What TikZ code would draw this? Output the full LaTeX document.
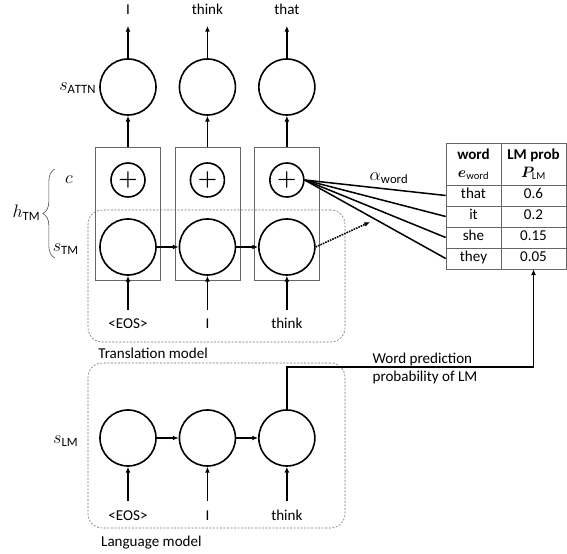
\RequirePackage{fix-cm}
\documentclass[tikz,border=0pt]{standalone}
\usepackage{amsmath,amssymb,bm}
\usepackage{fontspec}
\setmainfont{Carlito}
\usetikzlibrary{arrows.meta,calc,decorations.pathreplacing,positioning}
\newcommand{\figfont}{\fontsize{15}{18}\selectfont}
\tikzset{
  wire/.style={black, line width=1.5pt},
  flow/.style={-{Latex[length=2mm,width=1.7mm]}, line width=1.6pt},
  state/.style={circle, draw=black, line width=1.6pt,
                minimum size=19.6mm, inner sep=0pt},
  plus/.style={circle, draw=black, line width=1.6pt,
               minimum size=11.9mm, inner sep=0pt,
               font=\fontsize{22}{24}\selectfont},
  column/.style={draw=black!60, line width=0.6pt, inner sep=0pt,
                 minimum width=22.75mm, minimum height=46.55mm},
  model/.style={draw=black!55, line width=0.6pt,
                dash pattern=on 2pt off 1.5pt,
                rounded corners=5mm, inner sep=0pt},
  word/.style={text height=1.6ex, text depth=0.4ex, inner sep=2pt},
  lab/.style={inner sep=1pt},
  mlab/.style={inner sep=1pt, font=\fontsize{18}{20}\selectfont},
  note/.style={align=left, inner sep=1pt},
  cell/.style={draw=black!60, line width=0.6pt, inner sep=0pt,
               minimum height=7.35mm, text height=1.6ex, text depth=0.4ex},
  headcell/.style={draw=black!60, line width=0.6pt, inner sep=0pt,
                   minimum height=14.7mm, align=center,
                   font=\figfont\bfseries},
}

\begin{document}
\begin{tikzpicture}[x=1cm,y=1cm, font=\figfont]
  \path[use as bounding box] (0,0) rectangle (19.845,19.39);

  \node[model, minimum width=89.95mm, minimum height=46.2mm] (tmbox) at (7.5775,9.73) {};
  \node[model, minimum width=89.95mm, minimum height=57.75mm] (lmbox) at (7.5775,3.7975) {};
  \node[lab, anchor=west] (tmname) at (3.4,7.035) {Translation model};
  \node[lab, anchor=west] (lmname) at (3.5,0.385) {Language model};

  \foreach \x/\n/\inw/\outw in {4.48/1/{<EOS>}/I, 7.26/2/I/think, 10.04/3/think/that} {
    \node[column] (box\n) at (\x,11.92) {};
    \node[plus] (plus\n) at (\x,13.09) {$\bm{+}$};
    \node[state] (tm\n) at (\x,10.745) {};
    \node[state] (attn\n) at (\x,16.345) {};
    \node[state] (lm\n) at (\x,4.06) {};
    \node[word] (out\n) at (\x,18.97) {\outw};
    \node[word] (in\n) at (\x,7.98) {\inw};
    \node[word] (lmin\n) at (\x,1.26) {\inw};
    \draw[flow] (box\n.north) -- (attn\n.south);
    \draw[flow, shorten >=2.4mm] (attn\n.north) -- (out\n.south);
    \draw[flow, shorten <=3.2mm] (in\n.north) -- (tm\n.south);
    \draw[flow, shorten <=3.6mm] (lmin\n.north) -- (lm\n.south);
  }
  \draw[flow] (tm1.east) -- (tm2.west);
  \draw[flow] (tm2.east) -- (tm3.west);
  \draw[flow] (lm1.east) -- (lm2.west);
  \draw[flow] (lm2.east) -- (lm3.west);

  \node[mlab, anchor=east] (sattn) at (3.4,16.3) {$s_{\mathrm{ATTN}}$};
  \node[mlab] (clab) at (2.415,13.12) {$c$};
  \node[mlab] (stm) at (2.3,10.68) {$s_{\mathrm{TM}}$};
  \node[mlab] (slm) at (2.3,3.96) {$s_{\mathrm{LM}}$};
  \coordinate (bracelow) at (1.92,10.36);
  \coordinate (bracehigh) at (1.92,13.475);
  \draw[black!70, line width=0.6pt, decorate, decoration={brace, amplitude=0.42cm}]
    (bracelow) -- (bracehigh);
  \node[mlab, anchor=east] (htm) at (1.45,11.935) {$h_{\mathrm{TM}}$};

  \node[headcell, minimum width=19.25mm] (hw) at (16.5725,13.65)
    {word\\$\bm{e}_{\mathrm{word}}$};
  \node[headcell, minimum width=22.75mm] (hp) at (18.6725,13.65)
    {LM prob\\$\bm{P}_{\mathrm{LM}}$};
  \foreach \w/\p [count=\i] in {that/0.6, it/0.2, she/0.15, they/0.05} {
    \node[cell, minimum width=19.25mm] (w\i) at (16.5725,{12.915-(\i-0.5)*0.735}) {\w};
    \node[cell, minimum width=22.75mm] (p\i) at (18.6725,{12.915-(\i-0.5)*0.735}) {\p};
    \draw[wire] (plus3.east) -- (w\i.west);
  }
  \node[mlab] (alpha) at (13.615,13.16) {$\alpha_{\mathrm{word}}$};

  \coordinate (dotend) at (12.95,11.62);
  \draw[flow, densely dotted] (tm3.east) -- (dotend);

  \coordinate (lmturn) at (18.6725,6.545);
  \draw[flow] (lm3.north) |- (lmturn) -- (p4.south);
  \node[note, anchor=west] (lmnote) at (13.0,6.49) {Word prediction\\probability of LM};
\end{tikzpicture}
\end{document}
